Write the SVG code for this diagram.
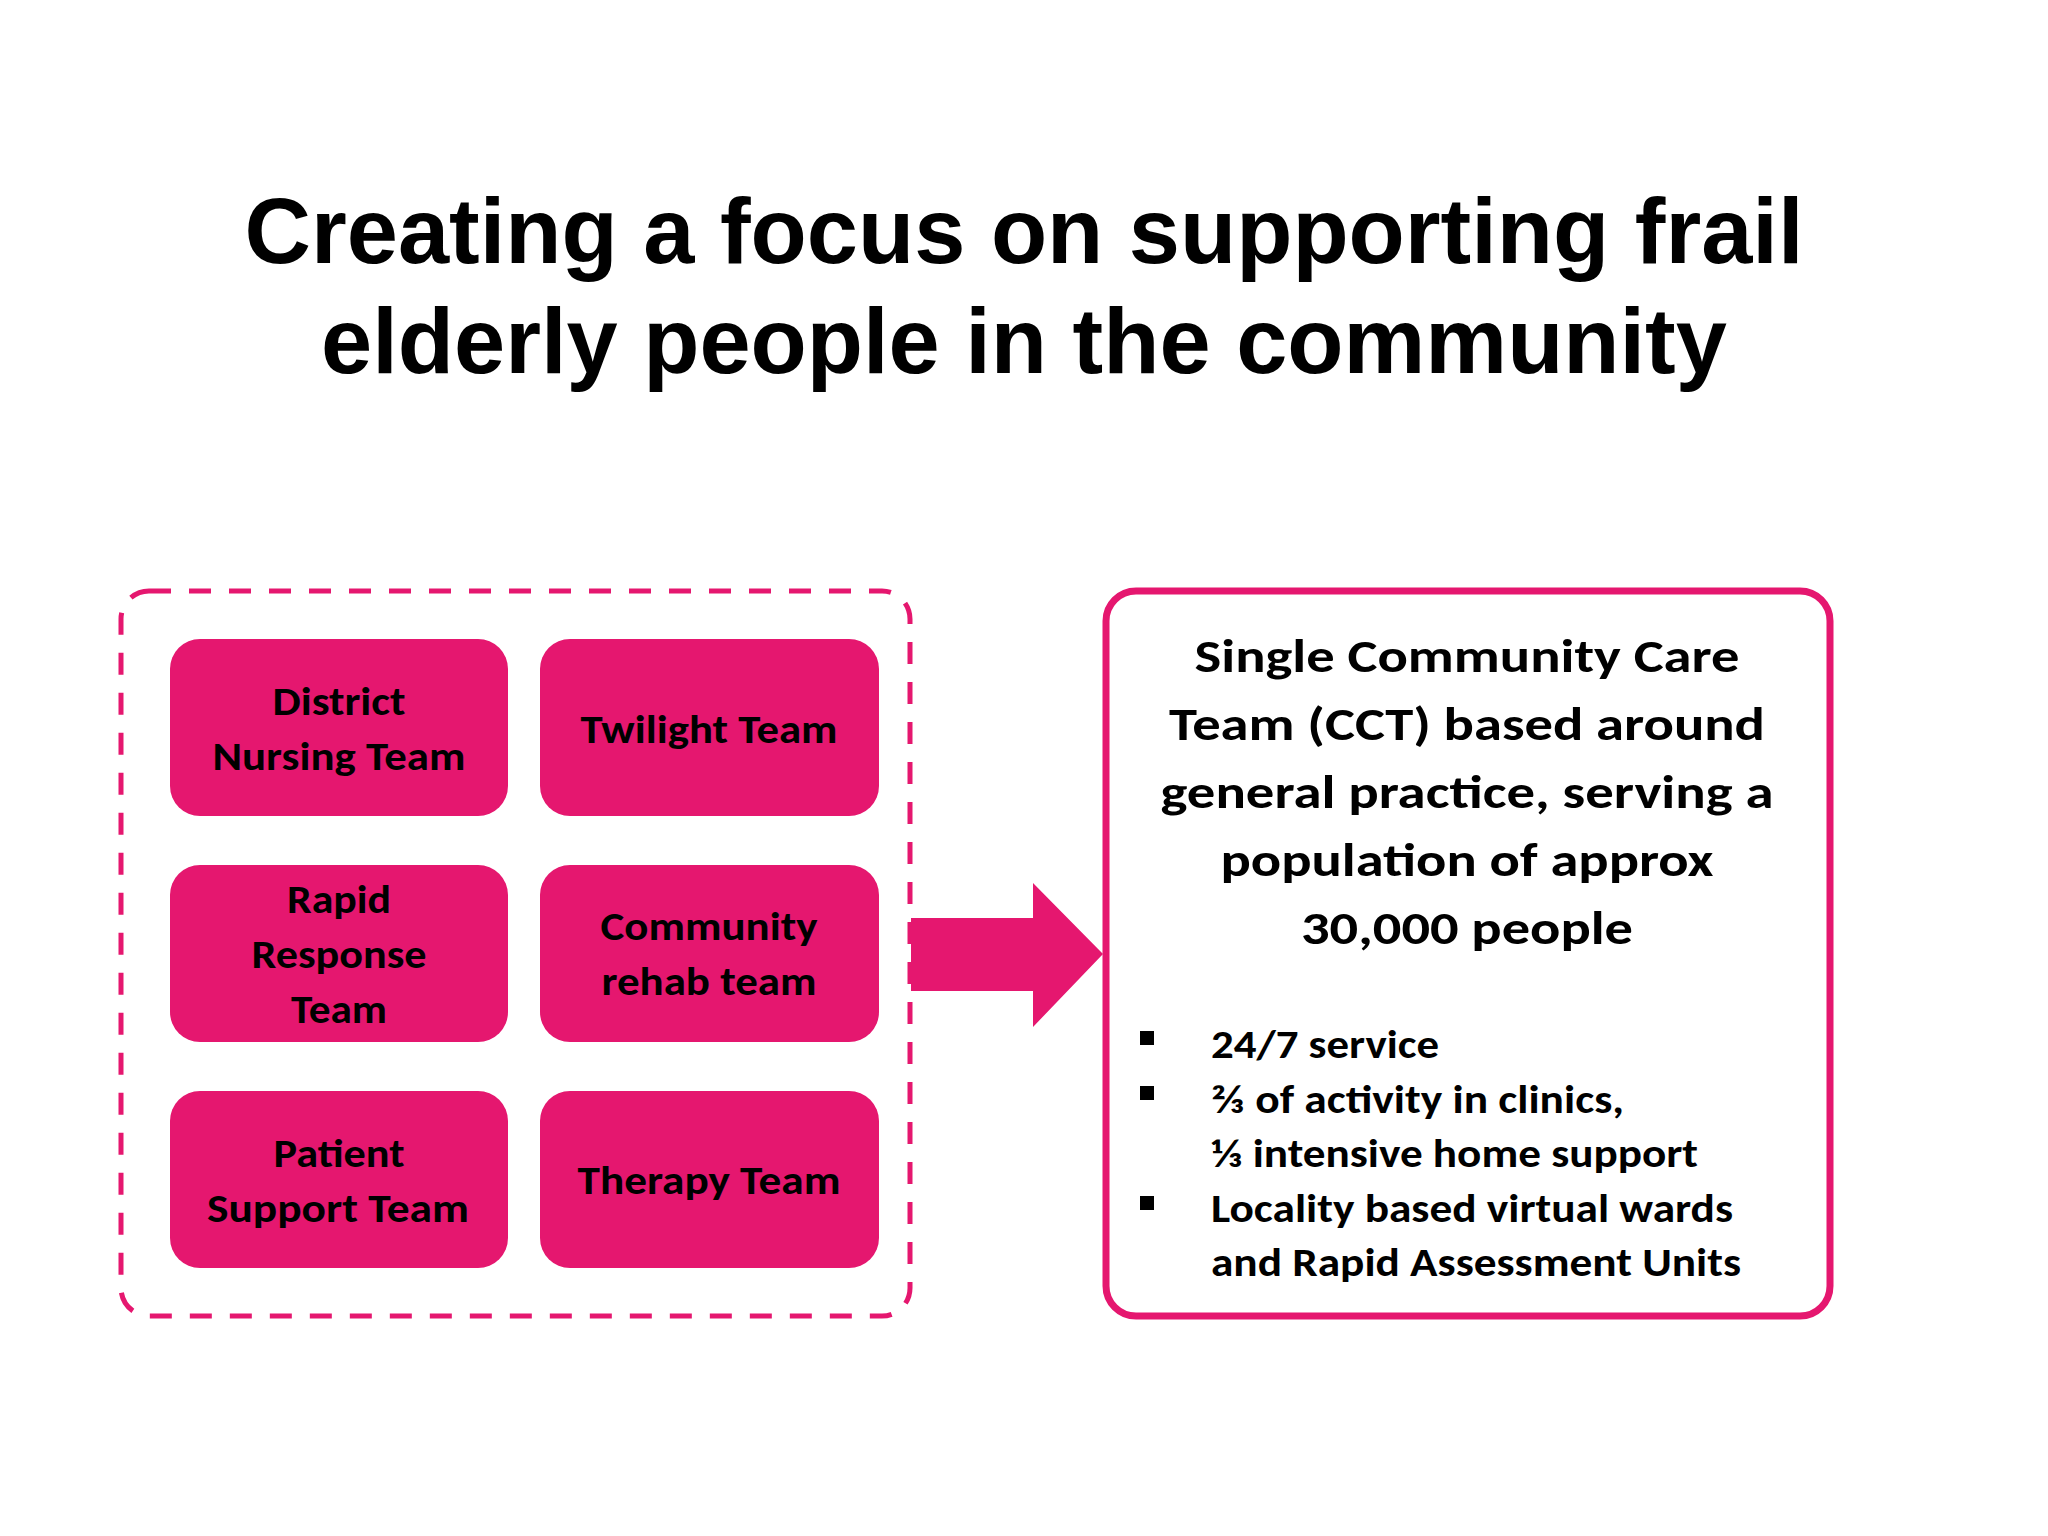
<svg xmlns="http://www.w3.org/2000/svg" width="2048" height="1536" viewBox="0 0 2048 1536">
<style>
.title{font-family:"Liberation Sans",Arial,sans-serif;font-weight:bold;font-size:92px;fill:#000;text-anchor:middle}
.team{fill:#E5176F}
.lbl{font-family:Carlito,Lato,"Liberation Sans",sans-serif;font-weight:bold;font-size:41px;fill:#000;text-anchor:middle}
.head{font-family:Carlito,Lato,"Liberation Sans",sans-serif;font-weight:bold;font-size:46px;fill:#000;text-anchor:middle}
.bul{font-family:Carlito,Lato,"Liberation Sans",sans-serif;font-weight:bold;font-size:40px;fill:#000}
</style>
<rect width="2048" height="1536" fill="#ffffff"/>
<g id="title">
<text class="title" x="1024" y="263">Creating a focus on supporting frail</text>
<text class="title" x="1024" y="373">elderly people in the community</text>
</g>
<g id="group-existing">
<rect x="121" y="591" width="789" height="725" rx="28" ry="28" fill="none" stroke="#E5176F" stroke-width="5" stroke-dasharray="22 18"/>
</g>
<g id="district-nursing">
<rect class="team" x="170" y="639" width="338" height="177" rx="30"/>
<text class="lbl" x="339" y="715" textLength="133" lengthAdjust="spacingAndGlyphs">District</text>
<text class="lbl" x="339" y="770" textLength="253" lengthAdjust="spacingAndGlyphs">Nursing Team</text>
</g>
<g id="twilight">
<rect class="team" x="540" y="639" width="339" height="177" rx="30"/>
<text class="lbl" x="709" y="743" textLength="257" lengthAdjust="spacingAndGlyphs">Twilight Team</text>
</g>
<g id="rapid-response">
<rect class="team" x="170" y="865" width="338" height="177" rx="30"/>
<text class="lbl" x="339" y="913" textLength="104" lengthAdjust="spacingAndGlyphs">Rapid</text>
<text class="lbl" x="339" y="968" textLength="175" lengthAdjust="spacingAndGlyphs">Response</text>
<text class="lbl" x="339" y="1023" textLength="96" lengthAdjust="spacingAndGlyphs">Team</text>
</g>
<g id="community-rehab">
<rect class="team" x="540" y="865" width="339" height="177" rx="30"/>
<text class="lbl" x="709" y="940" textLength="217" lengthAdjust="spacingAndGlyphs">Community</text>
<text class="lbl" x="709" y="995" textLength="215" lengthAdjust="spacingAndGlyphs">rehab team</text>
</g>
<g id="patient-support">
<rect class="team" x="170" y="1091" width="338" height="177" rx="30"/>
<text class="lbl" x="339" y="1167" textLength="131" lengthAdjust="spacingAndGlyphs">Patient</text>
<text class="lbl" x="338" y="1222" textLength="262" lengthAdjust="spacingAndGlyphs">Support Team</text>
</g>
<g id="therapy">
<rect class="team" x="540" y="1091" width="339" height="177" rx="30"/>
<text class="lbl" x="709" y="1194" textLength="263" lengthAdjust="spacingAndGlyphs">Therapy Team</text>
</g>
<g id="connectors">
<polygon points="911,918 1033,918 1033,883 1103,954 1033,1027 1033,991 911,991" fill="#E5176F"/>
</g>
<g id="cct">
<rect x="1106" y="591" width="724" height="725" rx="30" ry="30" fill="#ffffff" stroke="#E5176F" stroke-width="7"/>
<text class="head" x="1467" y="672" textLength="545" lengthAdjust="spacingAndGlyphs">Single Community Care</text>
<text class="head" x="1467" y="740" textLength="596" lengthAdjust="spacingAndGlyphs">Team (CCT) based around</text>
<text class="head" x="1467" y="808" textLength="613" lengthAdjust="spacingAndGlyphs">general practice, serving a</text>
<text class="head" x="1467" y="876" textLength="493" lengthAdjust="spacingAndGlyphs">population of approx</text>
<text class="head" x="1467" y="944" textLength="332" lengthAdjust="spacingAndGlyphs">30,000 people</text>
<rect x="1140" y="1031" width="14" height="14" fill="#000"/>
<rect x="1140" y="1086" width="14" height="14" fill="#000"/>
<rect x="1140" y="1196" width="14" height="14" fill="#000"/>
<text class="bul" x="1211" y="1058" textLength="228" lengthAdjust="spacingAndGlyphs">24/7 service</text>
<text class="bul" x="1211" y="1113" textLength="413" lengthAdjust="spacingAndGlyphs">⅔ of activity in clinics,</text>
<text class="bul" x="1211" y="1167" textLength="487" lengthAdjust="spacingAndGlyphs">⅓ intensive home support</text>
<text class="bul" x="1211" y="1222" textLength="522" lengthAdjust="spacingAndGlyphs">Locality based virtual wards</text>
<text class="bul" x="1211" y="1276" textLength="530" lengthAdjust="spacingAndGlyphs">and Rapid Assessment Units</text>
</g>
</svg>
